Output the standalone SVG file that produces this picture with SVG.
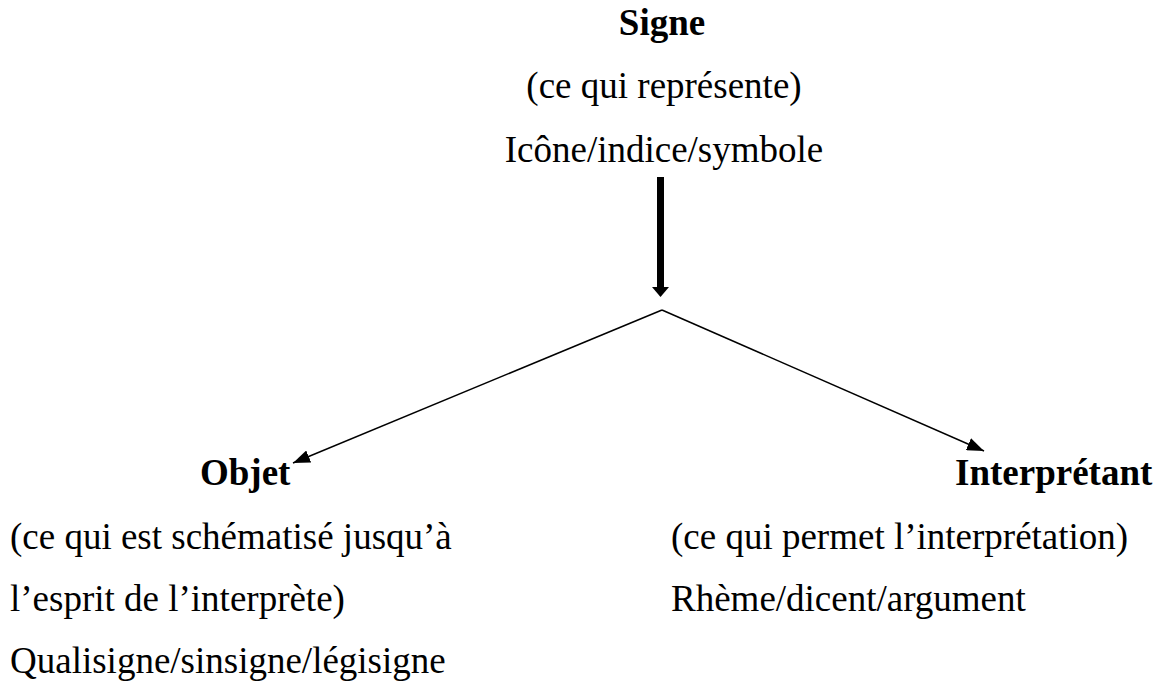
<svg xmlns="http://www.w3.org/2000/svg" width="1160" height="689" viewBox="0 0 1160 689">
  <style>
    text { font-family: "Liberation Serif", "Times New Roman", serif; font-size: 37px; fill: #000; }
    .title { font-weight: bold; }
    .thin { stroke: #000; stroke-width: 1.5; fill: none; }
  </style>
  <defs>
    <marker id="head" markerWidth="17" markerHeight="13" refX="17" refY="6.5" orient="auto" markerUnits="userSpaceOnUse">
      <path d="M0,0 L17,6.5 L0,13 Z" fill="#000"/>
    </marker>
  </defs>
  <rect width="1160" height="689" fill="#fff"/>

  <g id="signe">
    <text class="title" x="662" y="35" text-anchor="middle">Signe</text>
    <text x="664" y="98" text-anchor="middle">(ce qui représente)</text>
    <text x="664" y="162" text-anchor="middle">Icône/indice/symbole</text>
  </g>

  <g id="connectors">
    <!-- thick arrow from the sign down to the fork -->
    <rect x="657" y="177" width="7" height="111" fill="#000"/>
    <path d="M652,287 L669,287 L660.5,297 Z" fill="#000"/>
    <!-- fork to the two correlates -->
    <line class="thin" x1="662" y1="310" x2="293" y2="463" marker-end="url(#head)"/>
    <line class="thin" x1="662" y1="310" x2="984" y2="451" marker-end="url(#head)"/>
  </g>

  <g id="objet">
    <text class="title" x="200" y="485">Objet</text>
    <text x="10" y="549">(ce qui est schématisé jusqu’à</text>
    <text x="10" y="611">l’esprit de l’interprète)</text>
    <text x="10" y="673">Qualisigne/sinsigne/légisigne</text>
  </g>

  <g id="interpretant">
    <text class="title" x="955" y="485">Interprétant</text>
    <text x="671" y="549">(ce qui permet l’interprétation)</text>
    <text x="671" y="611">Rhème/dicent/argument</text>
  </g>
</svg>
